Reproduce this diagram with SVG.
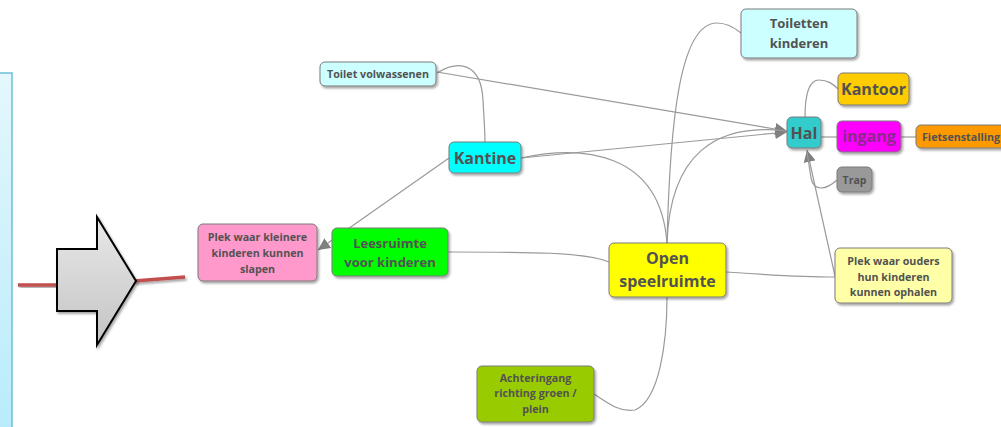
<svg xmlns="http://www.w3.org/2000/svg" width="1001" height="427" viewBox="0 0 1001 427">
<defs>
<linearGradient id="panel" x1="0" y1="0" x2="0" y2="1"><stop offset="0" stop-color="#e4f7fd"/><stop offset="1" stop-color="#b6ebfb"/></linearGradient>
<linearGradient id="arrowg" x1="0" y1="0" x2="0" y2="1"><stop offset="0" stop-color="#e8e8e8"/><stop offset="1" stop-color="#c4c4c4"/></linearGradient>
<filter id="sh" x="-20%" y="-20%" width="140%" height="150%"><feDropShadow dx="1.5" dy="2" stdDeviation="1.2" flood-color="#000" flood-opacity="0.35"/></filter>
<marker id="ah" viewBox="0 0 10 10" refX="10" refY="5" markerWidth="12" markerHeight="12" markerUnits="userSpaceOnUse" orient="auto"><path d="M0,0 L10,5 L0,10 z" fill="#808080"/></marker>
</defs>
<style>
.n rect{stroke:#7a7a7a;stroke-width:1;filter:url(#sh)}
.n text{font-family:"Open Sans","Noto Sans","DejaVu Sans",sans-serif;font-weight:bold;fill:#525252;text-anchor:middle}
.s{font-size:10.7px}
.m{font-size:13px}
.l{font-size:16px}
#conn path{fill:none;stroke:#9a9a9a;stroke-width:1.2}
</style>
<rect x="-10" y="73" width="22" height="380" fill="url(#panel)" stroke="#6cbfd6" stroke-width="1.5"/>
<g id="redline" fill="none" stroke="#c0504d" stroke-width="3.5" filter="url(#sh)">
<path d="M18,285 L60,285"/>
<path d="M134,281 L185,277"/>
</g>
<path id="bigarrow" d="M57,249 L97,249 L97,217 L136,281 L97,345 L97,311 L57,311 Z" fill="url(#arrowg)" stroke="#000" stroke-width="2" stroke-linejoin="miter" filter="url(#sh)"/>
<g id="conn">
<path d="M449,158 L318,250" marker-end="url(#ah)"/>
<path d="M448,252 C530,252 585,252 609,262"/>
<path d="M726,272 C770,275 800,277 835,277"/>
<path d="M835,276 L807,150" marker-end="url(#ah)"/>
<path d="M837,180 C826,190 814,192 811,178 L807,152"/>
<path d="M805,117 C805,92 810,80 819,80 C828,80 833,84 838,89"/>
<path d="M821,137 L837,137"/>
<path d="M901,137 L916,137"/>
<path d="M437,72 L787,131" marker-end="url(#ah)"/>
<path d="M437,73 C458,60 481,62 483,100 C484,120 485,130 485,142"/>
<path d="M521,158 L787,132" marker-end="url(#ah)"/>
<path d="M521,158 C580,145 660,150 667,243"/>
<path d="M667,243 C670,155 715,122 787,131"/>
<path d="M667,243 C670,120 680,23 717,23 C728,23 735,28 741,33"/>
<path d="M594,394 C610,405 620,412 635,410 C660,400 667,340 667,297"/>
</g>
<g id="n-slapen" class="n"><rect x="198" y="224" width="119" height="57" rx="5" fill="#ff99cc"/><text class="s" x="257.5" y="241">Plek waar kleinere</text><text class="s" x="257.5" y="257">kinderen kunnen</text><text class="s" x="257.5" y="273">slapen</text></g>
<g id="n-lees" class="n"><rect x="332" y="228" width="116" height="48" rx="5" fill="#00ff00"/><text class="m" x="390" y="247.5">Leesruimte</text><text class="m" x="390" y="266.5">voor kinderen</text></g>
<g id="n-toiletv" class="n"><rect x="320" y="62" width="116" height="24" rx="5" fill="#ccffff"/><text class="s" x="378" y="77.7">Toilet volwassenen</text></g>
<g id="n-kantine" class="n"><rect x="449" y="142" width="72" height="31" rx="5" fill="#00ffff"/><text class="l" x="485" y="163.6">Kantine</text></g>
<g id="n-open" class="n"><rect x="609" y="243" width="117" height="54" rx="5" fill="#ffff00"/><text class="l" x="667.5" y="263.6">Open</text><text class="l" x="667.5" y="286.6">speelruimte</text></g>
<g id="n-ouders" class="n"><rect x="835" y="248" width="117" height="55" rx="5" fill="#ffffa8"/><text class="s" x="893.5" y="264.7">Plek waar ouders</text><text class="s" x="893.5" y="280.5">hun kinderen</text><text class="s" x="893.5" y="296">kunnen ophalen</text></g>
<g id="n-toiletk" class="n"><rect x="741" y="9" width="116" height="49" rx="5" fill="#ccffff"/><text class="m" x="799" y="27.5">Toiletten</text><text class="m" x="799" y="47.5">kinderen</text></g>
<g id="n-kantoor" class="n"><rect x="838" y="73" width="71" height="32" rx="5" fill="#ffcc00"/><text class="l" x="873.5" y="94.6">Kantoor</text></g>
<g id="n-hal" class="n"><rect x="787" y="117" width="34" height="31" rx="5" fill="#33cccc"/><text class="l" x="804" y="138.6">Hal</text></g>
<g id="n-ingang" class="n"><rect x="837" y="121" width="64" height="31" rx="5" fill="#ff00ff"/><text class="l" x="869" y="141.6" style="fill:#8a2a8a">ingang</text></g>
<g id="n-fiets" class="n"><rect x="916" y="125" width="95" height="23" rx="5" fill="#ff9900"/><text class="s" x="922" y="140.7" style="text-anchor:start">Fietsenstalling</text></g>
<g id="n-trap" class="n"><rect x="837" y="167" width="35" height="25" rx="5" fill="#999999"/><text x="854.5" y="184" style="font-size:10.5px">Trap</text></g>
<g id="n-achter" class="n"><rect x="477" y="366" width="117" height="56" rx="5" fill="#99cc00"/><text class="s" x="535.5" y="381.7">Achteringang</text><text class="s" x="535.5" y="397.2">richting groen /</text><text class="s" x="535.5" y="412.7">plein</text></g>
</svg>
